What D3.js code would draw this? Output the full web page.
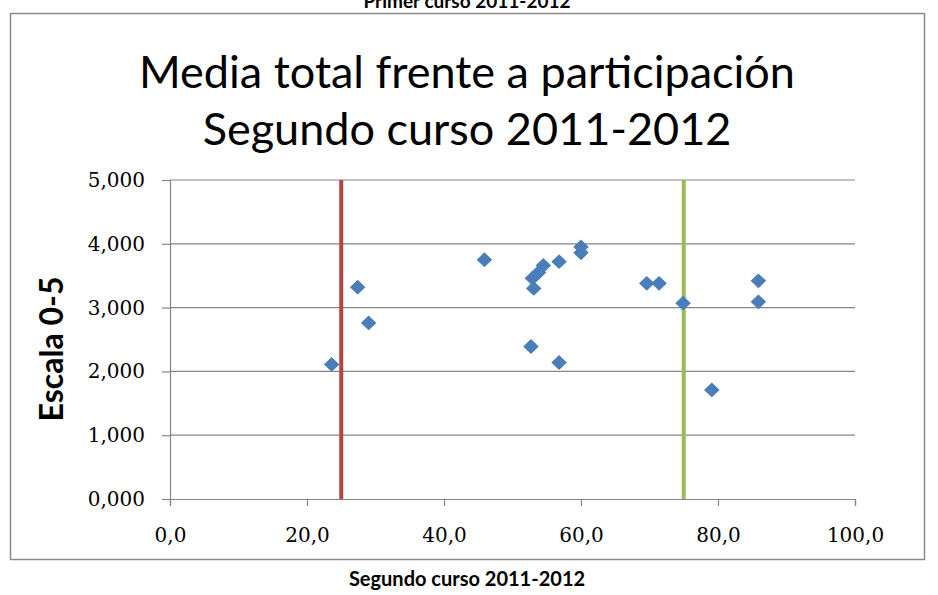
<!DOCTYPE html>
<html><head><meta charset="utf-8">
<script src="https://cdn.jsdelivr.net/npm/d3@7"></script>
<style>body{margin:0;background:#fff}svg{display:block}</style>
</head><body>
<script>
const participation = [23.6, 27.4, 29.0, 45.9, 53.1, 52.9, 53.8, 54.5, 56.8, 52.7, 56.8, 60.0, 60.0, 69.6, 71.4, 74.9, 85.9, 85.9, 79.1];
const mean =          [2.11, 3.32, 2.76, 3.75, 3.30, 3.46, 3.55, 3.66, 3.72, 2.39, 2.14, 3.95, 3.86, 3.38, 3.38, 3.07, 3.42, 3.09, 1.71];
const xTicks = [0, 20, 40, 60, 80, 100];
const yTicks = [0, 1, 2, 3, 4, 5];
const refLines = [25, 75];
const refColors = ["#B3443F", "#9BBB59"];
const titleLines = ["Media total frente a participación", "Segundo curso 2011-2012"];
const yLabel = "Escala 0-5";
const topCaption = "Primer curso 2011-2012";
const bottomCaption = "Segundo curso 2011-2012";

const W = 938, H = 595;
const svg = d3.select("body").append("svg").attr("width", W).attr("height", H);
const x = d3.scaleLinear().domain([0, 100]).range([170, 855]);
const y = d3.scaleLinear().domain([0, 5]).range([499, 180]);
const fmtY = v => d3.format(".3f")(v).replace(".", ",");
const fmtX = v => d3.format(".1f")(v).replace(".", ",");

svg.append("text").attr("x", 467).attr("y", 8).attr("text-anchor", "middle")
  .attr("font-family", "Lato, 'Open Sans', sans-serif").attr("font-weight", "bold").attr("font-size", 19)
  .text(topCaption);

svg.append("rect").attr("x", 10.5).attr("y", 13.5).attr("width", 914).attr("height", 546)
  .attr("fill", "#fff").attr("stroke", "#8a8a8a").attr("stroke-width", 1.5);

titleLines.forEach((t, i) => {
  svg.append("text").attr("x", 467).attr("y", 88 + i * 57).attr("text-anchor", "middle")
    .attr("font-family", "Lato, 'Open Sans', sans-serif").attr("font-size", 45).attr("fill", "#000")
    .text(t);
});

// gridlines
svg.append("g").selectAll("line").data(yTicks.filter(d => d > 0)).join("line")
  .attr("x1", x(0)).attr("x2", x(100)).attr("y1", d => y(d)).attr("y2", d => y(d))
  .attr("stroke", "#868686").attr("stroke-width", 1.2);

// y axis
const yAxis = svg.append("g").attr("transform", `translate(${x(0)},0)`)
  .call(d3.axisLeft(y).tickValues(yTicks).tickFormat(fmtY).tickSize(8).tickPadding(17));
yAxis.select(".domain").attr("stroke", "#868686").attr("stroke-width", 1.2);
yAxis.selectAll(".tick line").attr("stroke", "#868686").attr("stroke-width", 1.2);
yAxis.selectAll("text").attr("font-family", "'DejaVu Serif', serif").attr("font-size", 20).attr("fill", "#000");

// x axis
const xAxis = svg.append("g").attr("transform", `translate(0,${y(0)})`)
  .call(d3.axisBottom(x).tickValues(xTicks).tickFormat(fmtX).tickSize(7).tickPadding(22));
xAxis.select(".domain").attr("stroke", "#868686").attr("stroke-width", 1.2);
xAxis.selectAll(".tick line").attr("stroke", "#868686").attr("stroke-width", 1.2);
xAxis.selectAll("text").attr("font-family", "'DejaVu Serif', serif").attr("font-size", 20).attr("fill", "#000");

// reference lines
svg.append("g").selectAll("line").data(refLines).join("line")
  .attr("x1", d => x(d)).attr("x2", d => x(d)).attr("y1", y(5)).attr("y2", y(0))
  .attr("stroke", (d, i) => refColors[i]).attr("stroke-width", 4);

// points
const sym = d3.symbol().type(d3.symbolDiamond2).size(140);
svg.append("g").selectAll("path").data(participation.map((p, i) => [p, mean[i]])).join("path")
  .attr("d", sym).attr("transform", d => `translate(${x(d[0])},${y(d[1])}) scale(1.05,1)`)
  .attr("fill", "#4A7EBB");

svg.append("text").attr("transform", "translate(63,349) rotate(-90)").attr("text-anchor", "middle")
  .attr("font-family", "Lato, 'Open Sans', sans-serif").attr("font-weight", "bold").attr("font-size", 32)
  .text(yLabel);

svg.append("text").attr("x", 467).attr("y", 586).attr("text-anchor", "middle")
  .attr("font-family", "Lato, 'Open Sans', sans-serif").attr("font-weight", "bold").attr("font-size", 20)
  .text(bottomCaption);
</script>
</body></html>
